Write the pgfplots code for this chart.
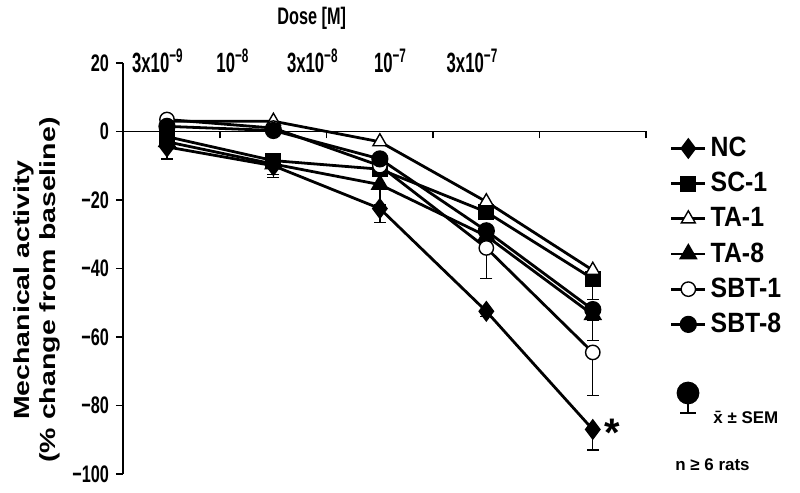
\documentclass[border=0pt]{standalone}
\usepackage{pgfplots}
\pgfplotsset{compat=1.18}
\usepackage{fontspec}
\setmainfont{Liberation Sans}
\newfontfamily\hf[FakeStretch=0.68]{Liberation Sans}
\newfontfamily\tf[FakeStretch=0.6]{Liberation Sans}
\newfontfamily\vf[FakeStretch=1.3]{Liberation Sans}
\newfontfamily\lf[FakeStretch=0.89]{Liberation Sans}

\begin{document}
\begin{tikzpicture}
\begin{axis}[
  scale only axis,
  width=261.5bp, height=205.5bp,
  xmin=-0.413, xmax=4.5,
  ymin=-100, ymax=20,
  axis y line*=left,
  axis x line*=middle,
  axis line style={line width=0.7pt},
  tick style={line width=0.7pt, black},
  tick align=outside,
  major tick length=3.5bp,
  xtick={0.5,1.5,2.5,3.5,4.5},
  xticklabels={},
  ytick={-100,-80,-60,-40,-20,0,20},
  yticklabels={−100,−80,−60,−40,−20,0,20},
  yticklabel style={font=\hf\bfseries\fontsize{12}{14}\selectfont},
  title={Dose [M]},
  title style={font=\hf\bfseries\fontsize{12}{14}\selectfont, at={(axis description cs:0.361,1.109)}, anchor=center, yshift=-6pt},
  ylabel={Mechanical activity\\(\% change from baseline)},
  ylabel style={font=\vf\bfseries\fontsize{11}{13}\selectfont, align=center, at={(axis description cs:-0.1644,0.4477)}, anchor=center},
  clip=false,
  legend cell align=left,
  legend style={draw=none, fill=none, at={(axis description cs:1.045,0.83)}, anchor=north west,
    font=\lf\bfseries\fontsize{14}{16}\selectfont, row sep=2.4bp, inner xsep=0pt, inner ysep=0pt},
  every axis plot/.append style={line width=1.4pt, black},
  error bars/error bar style={line width=0.7pt, black},
  error bars/error mark options={rotate=90, mark size=3bp, line width=0.7pt, black},
]
% NC
\addplot[mark=diamond*, mark size=4.2bp, mark options={solid, fill=black}]
  plot[error bars/.cd, y dir=minus, y explicit] coordinates {
  (0,-4.5) -= (0,3.5)
  (1,-10) -= (0,3.5)
  (2,-22.5) -= (0,4)
  (3,-52.5) -= (0,1.5)
  (4,-87) -= (0,6)
};
\addlegendentry{NC}
% SC-1
\addplot[mark=square*, mark size=3.3bp, mark options={solid, fill=black}]
  plot[error bars/.cd, y dir=minus, y explicit] coordinates {
  (0,-1.5) -= (0,1)
  (1,-8.5) -= (0,2)
  (2,-11) -= (0,2)
  (3,-23.5) -= (0,2)
  (4,-43) -= (0,6)
};
\addlegendentry{SC-1}
% TA-1
\addplot[mark=triangle*, mark size=4bp, mark options={solid, fill=white, line width=0.7pt}]
  plot[error bars/.cd, y dir=minus, y explicit] coordinates {
  (0,3) -= (0,1)
  (1,3) -= (0,1)
  (2,-3) -= (0,1)
  (3,-20.5) -= (0,2)
  (4,-40.5) -= (0,2)
};
\addlegendentry{TA-1}
% TA-8
\addplot[mark=triangle*, mark size=4bp, mark options={solid, fill=black}]
  plot[error bars/.cd, y dir=minus, y explicit] coordinates {
  (0,-3) -= (0,2)
  (1,-9.5) -= (0,3)
  (2,-15.5) -= (0,6)
  (3,-30.5) -= (0,3)
  (4,-53.5) -= (0,7.5)
};
\addlegendentry{TA-8}
% SBT-1
\addplot[mark=*, mark size=3.6bp, mark options={solid, fill=white, line width=0.7pt}]
  plot[error bars/.cd, y dir=minus, y explicit] coordinates {
  (0,3.5) -= (0,1)
  (1,1) -= (0,1)
  (2,-10) -= (0,3)
  (3,-34) -= (0,9)
  (4,-64.5) -= (0,12.5)
};
\addlegendentry{SBT-1}
% SBT-8
\addplot[mark=*, mark size=3.6bp, mark options={solid, fill=black}]
  plot[error bars/.cd, y dir=minus, y explicit] coordinates {
  (0,1.5) -= (0,1)
  (1,0.3) -= (0,1)
  (2,-8) -= (0,2)
  (3,-29) -= (0,3)
  (4,-52) -= (0,3)
};
\addlegendentry{SBT-8}

\coordinate (O) at (rel axis cs:0,0);
\node[anchor=base, font=\tf\bfseries\fontsize{14}{16}\selectfont] at (axis cs:-0.085,17.2) {3x10\textsuperscript{−9}};
\node[anchor=base, font=\tf\bfseries\fontsize{14}{16}\selectfont] at (axis cs:0.62,17.2) {10\textsuperscript{−8}};
\node[anchor=base, font=\tf\bfseries\fontsize{14}{16}\selectfont] at (axis cs:1.37,17.2) {3x10\textsuperscript{−8}};
\node[anchor=base, font=\tf\bfseries\fontsize{14}{16}\selectfont] at (axis cs:2.10,17.2) {10\textsuperscript{−7}};
\node[anchor=base, font=\tf\bfseries\fontsize{14}{16}\selectfont] at (axis cs:2.87,17.2) {3x10\textsuperscript{−7}};
\node[anchor=center, font=\bfseries\fontsize{20}{20}\selectfont] at (axis cs:4.18,-88) {*};
\end{axis}
% key symbol for mean +/- SEM
\fill[black] ([shift={(282.5bp,40.5bp)}]O) circle (5.7bp);
\draw[line width=0.9pt] ([shift={(282.5bp,40.5bp)}]O) -- ([shift={(282.5bp,30.5bp)}]O);
\draw[line width=0.9pt] ([shift={(278.5bp,30.5bp)}]O) -- ([shift={(286.5bp,30.5bp)}]O);
\node[anchor=base west, inner sep=0pt, font=\bfseries\fontsize{8.5}{10}\selectfont] at ([shift={(295bp,25.5bp)}]O) {\={x} ± SEM};
\node[anchor=base west, inner sep=0pt, font=\bfseries\fontsize{8.5}{10}\selectfont] at ([shift={(276bp,2bp)}]O) {n ≥ 6 rats};
\pgfresetboundingbox
\path[use as bounding box] ([shift={(-61.5bp,-9.5bp)}]O) rectangle ([shift={(338.5bp,237bp)}]O);
\end{tikzpicture}
\end{document}
